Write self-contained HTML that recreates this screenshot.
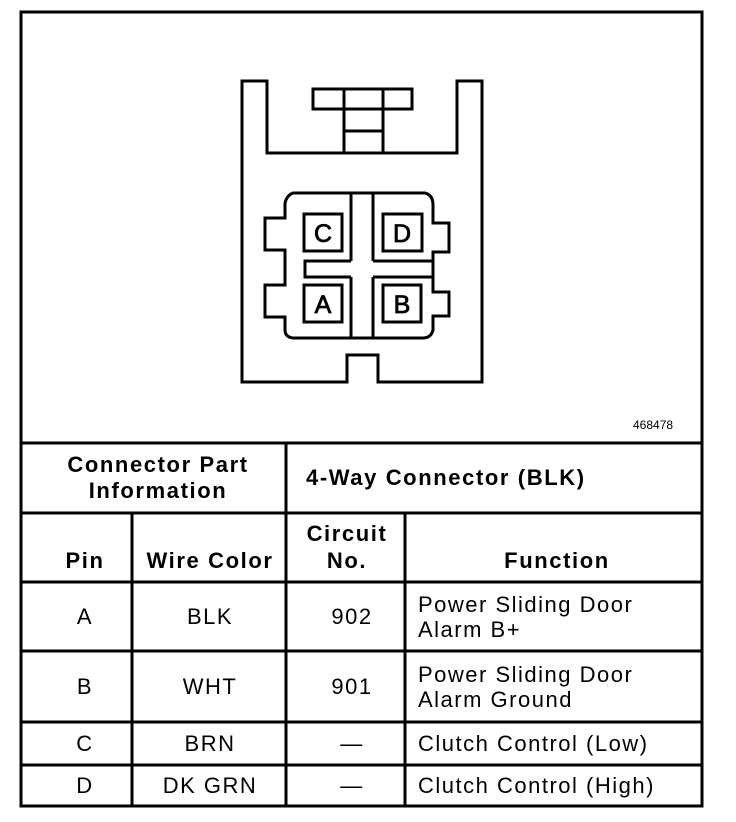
<!DOCTYPE html>
<html><head><meta charset="utf-8"><style>
html,body{margin:0;padding:0;background:#fff;width:736px;height:822px;overflow:hidden}
svg text{font-family:"Liberation Sans",Arial,sans-serif;fill:#000}
.b{font-weight:bold;font-size:22px;letter-spacing:1.6px}
.n{font-size:22px;letter-spacing:1.5px}
</style></head><body>
<svg width="736" height="822" viewBox="0 0 736 822" xmlns="http://www.w3.org/2000/svg">
<g fill="none" stroke="#000" stroke-width="3">
<rect x="21" y="12" width="681" height="794"/>
<line x1="21" y1="443" x2="702" y2="443"/>
<line x1="21" y1="513" x2="702" y2="513"/>
<line x1="21" y1="582" x2="702" y2="582"/>
<line x1="21" y1="651" x2="702" y2="651"/>
<line x1="21" y1="722" x2="702" y2="722"/>
<line x1="21" y1="765" x2="702" y2="765"/>
<line x1="286" y1="443" x2="286" y2="806"/>
<line x1="132" y1="513" x2="132" y2="806"/>
<line x1="405" y1="513" x2="405" y2="806"/>
<path d="M242 81 H267 V153 H457 V81 H482 V382 H378 V355 H347 V382 H242 Z"/>
<rect x="313" y="89" width="99" height="20"/>
<line x1="344" y1="89" x2="344" y2="153"/>
<line x1="383" y1="89" x2="383" y2="153"/>
<line x1="344" y1="131" x2="383" y2="131"/>
<path d="M293 193 H425 Q433 195 433 205 V223 H449 V252 H433 V292 H449 V316 H433 V330 Q431 338 423 338 H293 Q285 337 285 330 V317 H265 V285 H285 V250 H265 V218 H285 V203 Q287 195 293 193 Z"/>
<line x1="351" y1="193" x2="351" y2="261"/>
<line x1="373" y1="193" x2="373" y2="261"/>
<line x1="351" y1="277" x2="351" y2="338"/>
<line x1="373" y1="277" x2="373" y2="338"/>
<path d="M351 261 H305 V277 H351"/>
<line x1="373" y1="261" x2="433" y2="261"/>
<line x1="373" y1="277" x2="433" y2="277"/>
<rect x="304" y="214" width="38" height="37"/>
<rect x="383" y="214" width="39" height="37"/>
<rect x="304" y="285" width="38" height="37"/>
<rect x="383" y="285" width="38" height="37"/>
</g>
<g text-anchor="middle" font-size="25" stroke="#000" stroke-width="0.8">
<text x="323" y="242">C</text>
<text x="402" y="242">D</text>
<text x="323" y="313">A</text>
<text x="402" y="313">B</text>
</g>
<text x="633" y="429" font-size="12">468478</text>
<g class="b" text-anchor="middle">
<text x="158" y="472">Connector Part</text>
<text x="158" y="498">Information</text>
<text x="85" y="568">Pin</text>
<text x="210" y="568">Wire Color</text>
<text x="347" y="541">Circuit</text>
<text x="347" y="568">No.</text>
<text x="557" y="568">Function</text>
</g>
<text class="b" x="306" y="485">4-Way Connector (BLK)</text>
<g class="n" text-anchor="middle">
<text x="85" y="624">A</text><text x="210" y="624">BLK</text><text x="352" y="624">902</text>
<text x="85" y="694">B</text><text x="210" y="694">WHT</text><text x="352" y="694">901</text>
<text x="85" y="751">C</text><text x="210" y="751">BRN</text><text x="352" y="751">—</text>
<text x="85" y="793">D</text><text x="210" y="793">DK GRN</text><text x="352" y="793">—</text>
</g>
<g class="n">
<text x="418" y="612">Power Sliding Door</text>
<text x="418" y="637">Alarm B+</text>
<text x="418" y="682">Power Sliding Door</text>
<text x="418" y="707">Alarm Ground</text>
<text x="418" y="751">Clutch Control (Low)</text>
<text x="418" y="793">Clutch Control (High)</text>
</g>
</svg>
</body></html>
